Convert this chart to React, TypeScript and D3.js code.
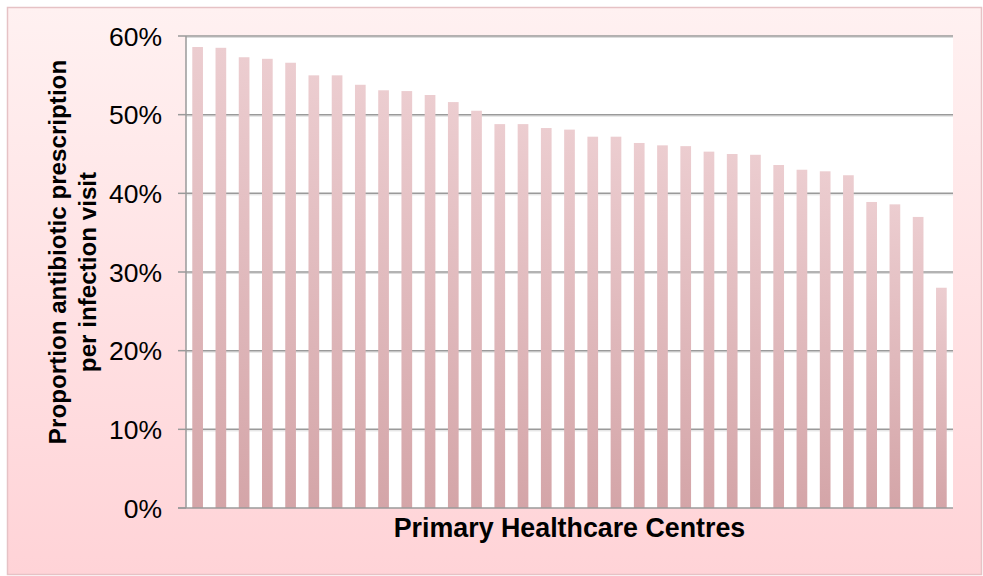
import React from "react";
import * as d3 from "d3";

const centres: string[] = Array.from({ length: 33 }, (_, i) => `PHC ${i + 1}`);
const proportions: number[] = [
  58.6, 58.5, 57.3, 57.1, 56.6, 55.0, 55.0, 53.8, 53.1, 53.0, 52.5, 51.6, 50.5,
  48.8, 48.8, 48.3, 48.1, 47.2, 47.2, 46.4, 46.1, 46.0, 45.3, 45.0, 44.9, 43.6,
  43.0, 42.8, 42.3, 38.9, 38.6, 37.0, 28.0,
];
const yTicks: number[] = [0, 10, 20, 30, 40, 50, 60];
const xTitle = "Primary Healthcare Centres";
const yTitleLines: string[] = ["Proportion antibiotic prescription", "per infection visit"];

const W = 983;
const H = 576;
const plot = { left: 186, right: 953, top: 36, bottom: 508 };
const font = "'Liberation Sans', Arial, sans-serif";

export default function App() {
  const x = d3
    .scaleBand<string>()
    .domain(centres)
    .range([plot.left, plot.right])
    .paddingInner(0.54)
    .paddingOuter(0.27);
  const y = d3.scaleLinear().domain([0, 60]).range([plot.bottom, plot.top]);

  return (
    <svg
      width={W}
      height={H}
      style={{ position: "absolute", left: 0, top: 0, display: "block" }}
    >
      <defs>
        <linearGradient id="bg" x1="0" y1="0" x2="0" y2="1">
          <stop offset="0" stopColor="#fff1f1" />
          <stop offset="1" stopColor="#ffd3d7" />
        </linearGradient>
        <linearGradient id="bar" x1="0" y1="0" x2="0" y2="1">
          <stop offset="0" stopColor="#eccdd0" />
          <stop offset="1" stopColor="#d4a5a8" />
        </linearGradient>
      </defs>
      <rect x={0} y={0} width={W} height={H} fill="#ffffff" />
      <rect
        x={7.5}
        y={7.5}
        width={974}
        height={567}
        fill="url(#bg)"
        stroke="#e6c2c5"
        strokeWidth={1.5}
      />
      <rect
        x={plot.left}
        y={plot.top}
        width={plot.right - plot.left}
        height={plot.bottom - plot.top}
        fill="#ffffff"
      />
      {yTicks.map((t) => (
        <g key={t}>
          {t > 0 && (
            <>
              <line
                x1={plot.left}
                x2={plot.right}
                y1={y(t) + 1.5}
                y2={y(t) + 1.5}
                stroke="#dcdcdc"
                strokeWidth={1}
              />
              <line
                x1={plot.left}
                x2={plot.right}
                y1={y(t)}
                y2={y(t)}
                stroke="#9a9a9a"
                strokeWidth={1.5}
              />
            </>
          )}
          <line
            x1={plot.left - 8}
            x2={plot.left}
            y1={y(t)}
            y2={y(t)}
            stroke="#9a9a9a"
            strokeWidth={1.5}
          />
          <text
            x={162}
            y={y(t)}
            dy="0.36em"
            textAnchor="end"
            fontFamily={font}
            fontSize={26.5}
            fill="#000"
          >
            {`${t}%`}
          </text>
        </g>
      ))}
      {centres.map((c, i) => (
        <rect
          key={c}
          x={x(c)}
          y={y(proportions[i])}
          width={x.bandwidth()}
          height={y(0) - y(proportions[i])}
          fill="url(#bar)"
        />
      ))}
      <line
        x1={plot.left}
        x2={plot.left}
        y1={plot.top}
        y2={plot.bottom}
        stroke="#9a9a9a"
        strokeWidth={1.5}
      />
      <line
        x1={plot.left - 8}
        x2={plot.right}
        y1={plot.bottom}
        y2={plot.bottom}
        stroke="#9a9a9a"
        strokeWidth={1.5}
      />
      <text
        x={(plot.left + plot.right) / 2}
        y={537}
        textAnchor="middle"
        fontFamily={font}
        fontWeight="bold"
        fontSize={26.8}
        fill="#000"
      >
        {xTitle}
      </text>
      <text
        transform={`translate(66,252) rotate(-90)`}
        textAnchor="middle"
        fontFamily={font}
        fontWeight="bold"
        fontSize={24.2}
        fill="#000"
      >
        {yTitleLines[0]}
      </text>
      <text
        transform={`translate(96,272) rotate(-90)`}
        textAnchor="middle"
        fontFamily={font}
        fontWeight="bold"
        fontSize={24.2}
        fill="#000"
      >
        {yTitleLines[1]}
      </text>
    </svg>
  );
}
